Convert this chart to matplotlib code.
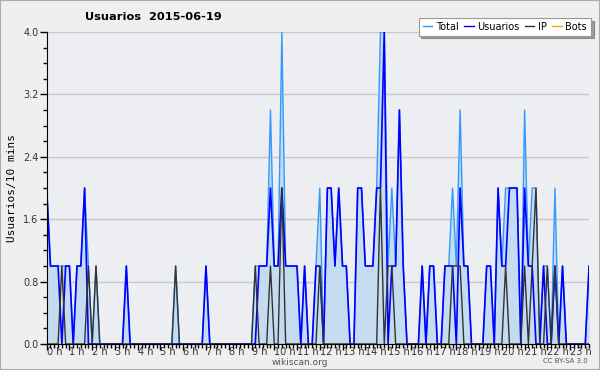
import matplotlib
matplotlib.use("Agg")
import matplotlib.pyplot as plt
from matplotlib.ticker import MultipleLocator

# 10-minute slots, 144 per day
usuarios = [2, 1, 1, 1, 0, 1, 1, 0, 1, 1, 2, 0, 0, 0, 0, 0, 0, 0, 0, 0, 0, 1, 0, 0,
            0, 0, 0, 0, 0, 0, 0, 0, 0, 0, 0, 0, 0, 0, 0, 0, 0, 0, 1, 0, 0, 0, 0, 0,
            0, 0, 0, 0, 0, 0, 0, 0, 1, 1, 1, 2, 1, 1, 2, 1, 1, 1, 1, 0, 1, 0, 0, 1,
            1, 0, 2, 2, 1, 2, 1, 1, 0, 0, 2, 2, 1, 1, 1, 2, 2, 4, 0, 1, 1, 3, 1, 0,
            0, 0, 0, 1, 0, 1, 1, 0, 0, 1, 1, 1, 0, 2, 1, 1, 0, 0, 0, 0, 1, 1, 0, 2,
            1, 1, 2, 2, 2, 0, 2, 1, 1, 0, 0, 1, 0, 0, 1, 0, 1, 0, 0, 0, 0, 0, 0, 1]
ip = [0, 0, 0, 0, 1, 0, 0, 0, 0, 0, 0, 1, 0, 1, 0, 0, 0, 0, 0, 0, 0, 0, 0, 0,
      0, 0, 0, 0, 0, 0, 0, 0, 0, 0, 1, 0, 0, 0, 0, 0, 0, 0, 0, 0, 0, 0, 0, 0,
      0, 0, 0, 0, 0, 0, 0, 1, 0, 0, 0, 1, 0, 0, 2, 0, 0, 0, 0, 0, 0, 0, 0, 0,
      1, 0, 0, 0, 0, 0, 0, 0, 0, 0, 0, 0, 0, 0, 0, 0, 2, 0, 1, 1, 0, 0, 0, 0,
      0, 0, 0, 0, 0, 0, 0, 0, 0, 0, 0, 1, 1, 1, 0, 0, 0, 0, 0, 0, 0, 0, 0, 0,
      0, 1, 0, 0, 0, 0, 1, 0, 1, 2, 0, 0, 1, 0, 1, 0, 0, 0, 0, 0, 0, 0, 0, 0]
total = [2, 1, 1, 1, 1, 1, 1, 0, 1, 1, 2, 1, 0, 1, 0, 0, 0, 0, 0, 0, 0, 1, 0, 0,
         0, 0, 0, 0, 0, 0, 0, 0, 0, 0, 1, 0, 0, 0, 0, 0, 0, 0, 1, 0, 0, 0, 0, 0,
         0, 0, 0, 0, 0, 0, 0, 1, 1, 1, 1, 3, 1, 1, 4, 1, 1, 1, 1, 0, 1, 0, 0, 1,
         2, 0, 2, 2, 1, 2, 1, 1, 0, 0, 2, 2, 1, 1, 1, 2, 4, 4, 1, 2, 1, 3, 1, 0,
         0, 0, 0, 1, 0, 1, 1, 0, 0, 1, 1, 2, 1, 3, 1, 1, 0, 0, 0, 0, 1, 1, 0, 2,
         1, 2, 2, 2, 2, 0, 3, 1, 2, 2, 0, 1, 1, 0, 2, 0, 1, 0, 0, 0, 0, 0, 0, 1]
bots = [0] * 144
hour_labels = [f"{h} h" for h in range(24)]

slots = list(range(len(total)))

fig = plt.figure(figsize=(6, 3.7), dpi=100, facecolor="#efefef")
ax = fig.add_axes([0.0778, 0.0703, 0.904, 0.8432], facecolor="#eceef1")

for y in [0.8, 1.6, 2.4, 3.2, 4.0]:
    ax.axhline(y, color="#c8c8c8", lw=1, zorder=0)

ax.fill_between(slots, total, 0, color="#c4dbf0", lw=0, zorder=1)
ax.plot(slots, bots, color="#ffa500", lw=1, zorder=1.5)
ax.plot(slots, total, color="#3399ff", lw=1, zorder=2)
ax.plot(slots, usuarios, color="#0000ff", lw=1.2, zorder=3)
ax.plot(slots, ip, color="#333333", lw=1, zorder=4)

ax.set_xlim(0, 143)
ax.set_ylim(0, 4)

for s in ["top", "right"]:
    ax.spines[s].set_visible(False)
ax.spines["left"].set_zorder(5)
ax.spines["bottom"].set_zorder(5)

ax.set_yticks([0, 0.8, 1.6, 2.4, 3.2, 4.0])
ax.set_yticklabels(["0.0", "0.8", "1.6", "2.4", "3.2", "4.0"])
ax.yaxis.set_minor_locator(MultipleLocator(0.2))
ax.set_xticks(range(0, 144, 6))
ax.set_xticklabels(hour_labels)
ax.xaxis.set_minor_locator(MultipleLocator(1))
ax.tick_params(axis="y", which="major", length=5, width=1, labelsize=7,
               labelcolor="#333333", pad=1)
ax.tick_params(axis="x", which="major", length=4, width=1, labelsize=7,
               labelcolor="#333333", pad=-2)
ax.tick_params(axis="both", which="minor", length=3, width=1)
for lab in ax.get_xticklabels():
    lab.set_horizontalalignment("left")

ax.set_ylabel("Usuarios/10 mins", family="DejaVu Sans Mono", fontsize=8, labelpad=4)

fig.text(0.142, 0.954, "Usuarios  2015-06-19", fontsize=8.2, fontweight="bold", va="center")
fig.text(0.5, 0.021, "wikiscan.org", fontsize=6.5, color="#555555", ha="center", va="center")
fig.text(0.98, 0.024, "CC BY-SA 3.0", fontsize=5, color="#555555", ha="right", va="center")

handles = [plt.Line2D([], [], color=c, lw=1) for c in ["#3399ff", "#0000ff", "#333333", "#ffa500"]]
leg = fig.legend(handles, ["Total", "Usuarios", "IP", "Bots"], loc="upper right",
                 bbox_to_anchor=(0.985, 0.952), borderaxespad=0, ncol=4, fontsize=7,
                 frameon=True, fancybox=False, shadow=True, handlelength=1.0,
                 handletextpad=0.4, columnspacing=0.5, borderpad=0.4)
leg.get_frame().set_edgecolor("#999999")
leg.get_frame().set_linewidth(0.8)

fig.patches.append(plt.Rectangle((0, 0), 1, 1, transform=fig.transFigure, fill=False,
                                 edgecolor="#aaaaaa", lw=1.5))

fig.savefig("out.png", dpi=100, facecolor=fig.get_facecolor())
